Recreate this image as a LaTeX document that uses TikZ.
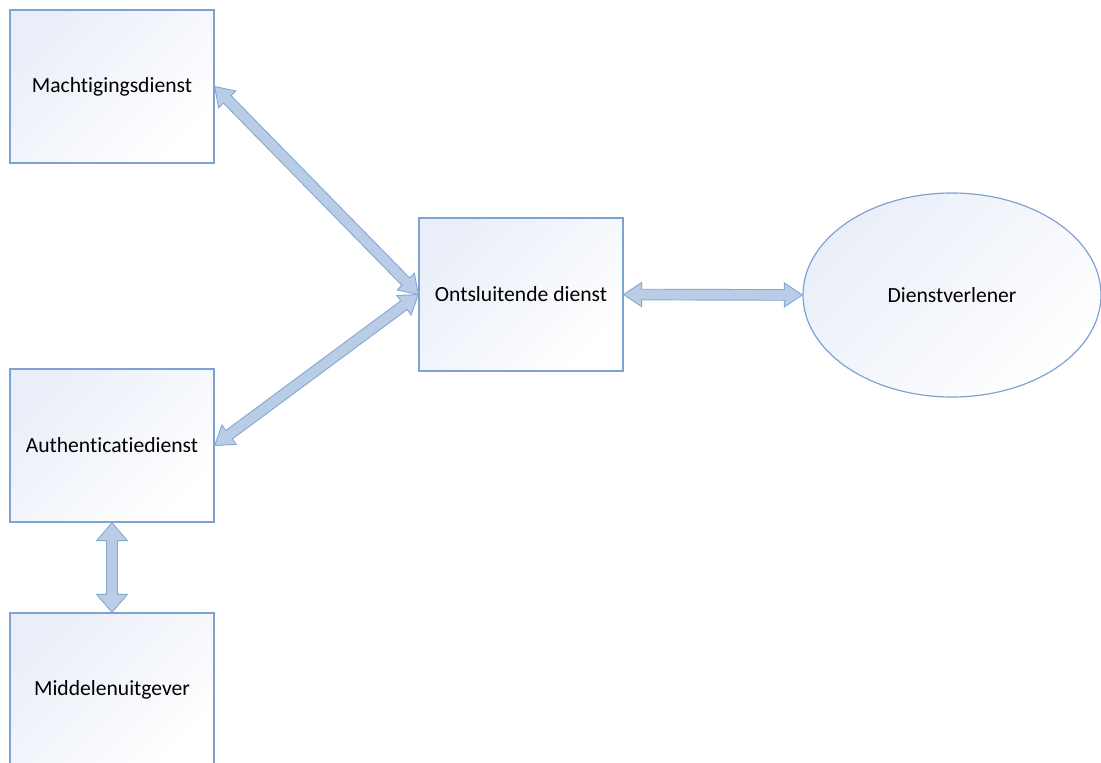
\documentclass[tikz,border=0pt]{standalone}
\usepackage{fontspec}
\setmainfont[Ligatures=NoCommon]{Carlito}
\usetikzlibrary{calc,shapes.geometric}
\definecolor{boxline}{HTML}{7FA3D1}
\definecolor{boxtop}{HTML}{E9EEF8}
\definecolor{arrfill}{HTML}{B9CDE6}
\definecolor{arrline}{HTML}{86A9D3}
\tikzset{
  box/.style={draw=boxline, line width=0.9pt, top color=boxtop, bottom color=white, shading angle=45,
    minimum width=153pt, minimum height=114.75pt, inner sep=0pt, font=\fontsize{16.2pt}{19pt}\selectfont},
  oval/.style={ellipse, draw=boxline, line width=0.9pt, top color=boxtop, bottom color=white, shading angle=45,
    minimum width=223.5pt, minimum height=153pt, inner sep=0pt, font=\fontsize{16.2pt}{19pt}\selectfont},
  arr/.style={draw=arrline, fill=arrfill, line width=0.7pt, line join=miter},
  blockarrow/.style={to path={let \p1=(\tikztostart), \p2=(\tikztotarget),
     \n1={atan2(\y2-\y1,\x2-\x1)} in
     (\p1) -- ($(\p1)+(\n1:13.5pt)+(\n1+90:#1)$) -- ($(\p1)+(\n1:13.5pt)+(\n1+90:4pt)$)
     -- ($(\p2)+(\n1:-13.5pt)+(\n1+90:4pt)$) -- ($(\p2)+(\n1:-13.5pt)+(\n1+90:#1)$)
     -- (\p2) -- ($(\p2)+(\n1:-13.5pt)+(\n1-90:#1)$) -- ($(\p2)+(\n1:-13.5pt)+(\n1-90:4pt)$)
     -- ($(\p1)+(\n1:13.5pt)+(\n1-90:4pt)$) -- ($(\p1)+(\n1:13.5pt)+(\n1-90:#1)$) -- cycle}},
  blockarrow/.default=9pt
}
\begin{document}
\begin{tikzpicture}[x=0.75pt,y=-0.75pt]
\useasboundingbox (0,0) rectangle (1101,763);
\node[box] (M) at (112,86.5) {Machtigingsdienst};
\node[box] (O) at (521,294.5) {Ontsluitende dienst};
\node[box] (A) at (112,445.5) {Authenticatiedienst};
\node[box] (Mi) at (112,689.5) {Middelenuitgever};
\node[oval] (D) at (952,295) {Dienstverlener};
\draw[arr] (M.east) to[blockarrow] (O.west);
\draw[arr] (A.east) to[blockarrow] (O.west);
\draw[arr] (O.east) to[blockarrow] (D.west);
\draw[arr] (A.south) to[blockarrow=11.5pt] (Mi.north);
\end{tikzpicture}
\end{document}
